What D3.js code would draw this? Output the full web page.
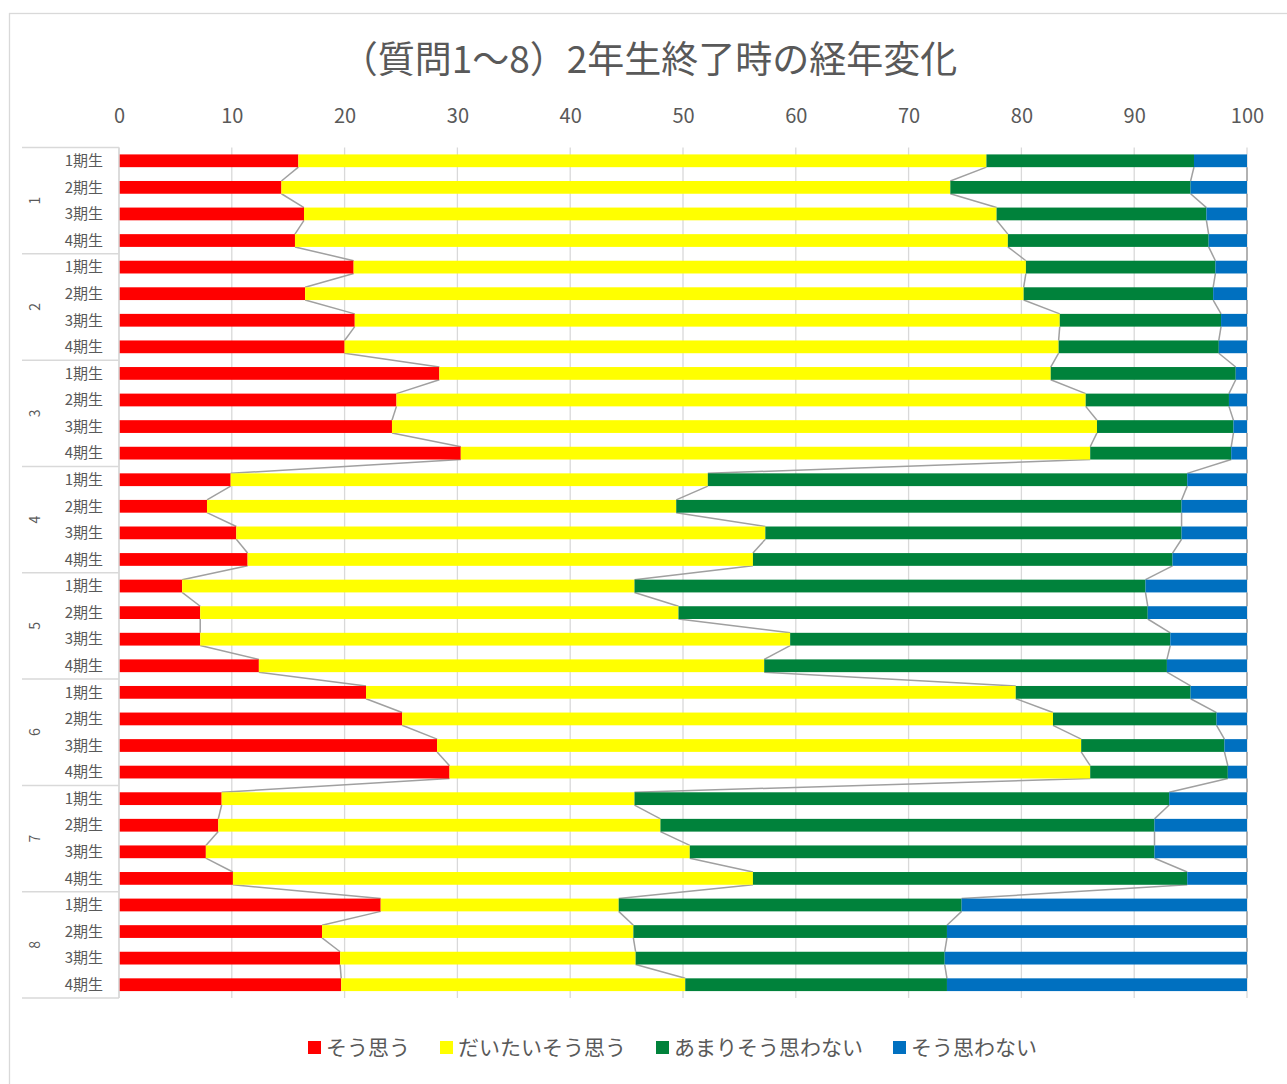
<!DOCTYPE html>
<html lang="ja">
<head>
<meta charset="utf-8">
<title>2年生終了時の経年変化</title>
<style>
  body { margin: 0; background: #fff; }
  text { font-family: "Noto Sans CJK JP", "Noto Sans", sans-serif; fill: #595959; }
  .grid line { stroke: #d9d9d9; stroke-width: 1.3px; }
  .sline { stroke: #a0a0a0; stroke-width: 1.5px; fill: none; }
</style>
</head>
<body>
<svg width="1287" height="1084"></svg>
<script src="https://d3js.org/d3.v7.min.js"></script>
<script>

var questions = ["1", "2", "3", "4", "5", "6", "7", "8"];
var cohorts = ["1期生", "2期生", "3期生", "4期生"];
var seriesNames = ["そう思う", "だいたいそう思う", "あまりそう思わない", "そう思わない"];
var seriesColors = ["#ff0000", "#ffff00", "#00823b", "#0070c0"];
var xTicks = [0, 10, 20, 30, 40, 50, 60, 70, 80, 90, 100];

// percentages, 4 cohorts per question, question 1..8
var souOmou = [15.9, 14.4, 16.4, 15.6, 20.8, 16.5, 20.9, 20.0,
               28.4, 24.6, 24.2, 30.3, 9.9, 7.8, 10.4, 11.4,
               5.6, 7.2, 7.2, 12.4, 21.9, 25.1, 28.2, 29.3,
               9.1, 8.8, 7.7, 10.1, 23.2, 18.0, 19.6, 19.7];
var daitai = [61.0, 59.3, 61.4, 63.2, 59.6, 63.7, 62.5, 63.3,
              54.2, 61.1, 62.5, 55.8, 42.3, 41.6, 46.9, 44.8,
              40.1, 42.4, 52.3, 44.8, 57.6, 57.7, 57.1, 56.8,
              36.6, 39.2, 42.9, 46.1, 21.1, 27.6, 26.2, 30.5];
var amari = [18.4, 21.3, 18.6, 17.8, 16.8, 16.8, 14.3, 14.2,
             16.4, 12.7, 12.1, 12.5, 42.5, 44.8, 36.9, 37.2,
             45.3, 41.6, 33.7, 35.7, 15.5, 14.5, 12.7, 12.2,
             47.4, 43.8, 41.2, 38.5, 30.4, 27.8, 27.4, 23.2];
var souOmowanai = [4.7, 5.0, 3.6, 3.4, 2.8, 3.0, 2.3, 2.5,
                   1.0, 1.6, 1.2, 1.4, 5.3, 5.8, 5.8, 6.6,
                   9.0, 8.8, 6.8, 7.1, 5.0, 2.7, 2.0, 1.7,
                   6.9, 8.2, 8.2, 5.3, 25.3, 26.6, 26.8, 26.6];

var rows = [];
questions.forEach(function(q, qi) {
    cohorts.forEach(function(c, ci) {
        var i = qi * 4 + ci;
        rows.push({ key: q + "|" + c, q: q, c: c,
                    s0: souOmou[i], s1: daitai[i], s2: amari[i], s3: souOmowanai[i] });
    });
});

var svg = d3.select("svg");

// chart border
svg.append("rect")
   .attr("x", 9.5).attr("y", 13.5)
   .attr("width", 1300).attr("height", 1100)
   .attr("fill", "none").attr("stroke", "#d9d9d9").attr("stroke-width", 1.3);

var plotTop = 147.5, plotBottom = 998;

var x = d3.scaleLinear().domain([0, 100]).range([119, 1247]);
var p = 0.52;
var y = d3.scaleBand()
          .domain(rows.map(function(d) { return d.key; }))
          .range([plotTop, plotBottom])
          .paddingInner(p)
          .paddingOuter(p / 2);
var bw = y.bandwidth();
var step = y.step();

// title
svg.append("text")
   .attr("x", 649).attr("y", 73)
   .attr("text-anchor", "middle")
   .style("font-size", "37px")
   .text("（質問1～8）2年生終了時の経年変化");

// gridlines
svg.append("g").attr("class", "grid")
   .selectAll("line").data(xTicks).enter().append("line")
   .attr("x1", function(d) { return x(d); }).attr("x2", function(d) { return x(d); })
   .attr("y1", plotTop).attr("y2", plotBottom);

// top axis labels
var xAxis = d3.axisTop(x).tickValues(xTicks).tickSize(0).tickPadding(25);
var gx = svg.append("g").attr("transform", "translate(0," + plotTop + ")").call(xAxis);
gx.select(".domain").remove();
gx.selectAll("text").style("font-size", "20px").attr("fill", "#595959")
  .style("font-family", "'Noto Sans CJK JP', sans-serif");

// stacked data
var stack = d3.stack().keys(["s0", "s1", "s2", "s3"]);
var series = stack(rows);

// series lines
series.forEach(function(s) {
    for (var i = 0; i < rows.length - 1; i++) {
        svg.append("line").attr("class", "sline")
           .attr("x1", x(s[i][1])).attr("y1", y(rows[i].key) + bw)
           .attr("x2", x(s[i + 1][1])).attr("y2", y(rows[i + 1].key));
    }
});

// bars
svg.append("g").selectAll("g").data(series).enter().append("g")
   .attr("fill", function(d, i) { return seriesColors[i]; })
   .selectAll("rect").data(function(d) { return d; }).enter().append("rect")
   .attr("x", function(d) { return x(d[0]); })
   .attr("width", function(d) { return x(d[1]) - x(d[0]); })
   .attr("y", function(d) { return y(d.data.key); })
   .attr("height", bw);

// category axis: inner labels
svg.append("g").selectAll("text").data(rows).enter().append("text")
   .attr("x", 103)
   .attr("y", function(d) { return y(d.key) + bw / 2; })
   .attr("dy", "0.35em")
   .attr("text-anchor", "end")
   .style("font-size", "15px")
   .text(function(d) { return d.c; });

// axis line
svg.append("line")
   .attr("x1", 119).attr("x2", 119).attr("y1", plotTop).attr("y2", plotBottom)
   .attr("stroke", "#d9d9d9").attr("stroke-width", 1.5);

// group dividers and outer labels
var groupH = step * 4;
svg.append("g").selectAll("line").data(d3.range(questions.length + 1)).enter().append("line")
   .attr("x1", 22).attr("x2", 119)
   .attr("y1", function(d) { return plotTop + d * groupH; })
   .attr("y2", function(d) { return plotTop + d * groupH; })
   .attr("stroke", "#d9d9d9").attr("stroke-width", 1.5);

svg.append("g").selectAll("text").data(questions).enter().append("text")
   .attr("transform", function(d, i) {
       return "translate(35," + (plotTop + (i + 0.5) * groupH) + ") rotate(-90)";
   })
   .attr("dy", "0.35em")
   .attr("text-anchor", "middle")
   .style("font-size", "14px")
   .text(function(d) { return d; });

// legend
var lx = 308, ly = 1048;
seriesNames.forEach(function(name, i) {
    svg.append("rect")
       .attr("x", lx).attr("y", ly - 7).attr("width", 13).attr("height", 13)
       .attr("fill", seriesColors[i]);
    var t = svg.append("text")
       .attr("x", lx + 18).attr("y", ly).attr("dy", "0.35em")
       .style("font-size", "21px")
       .text(name);
    lx += 18 + t.node().getComputedTextLength() + 30;
});

</script>
</body>
</html>
